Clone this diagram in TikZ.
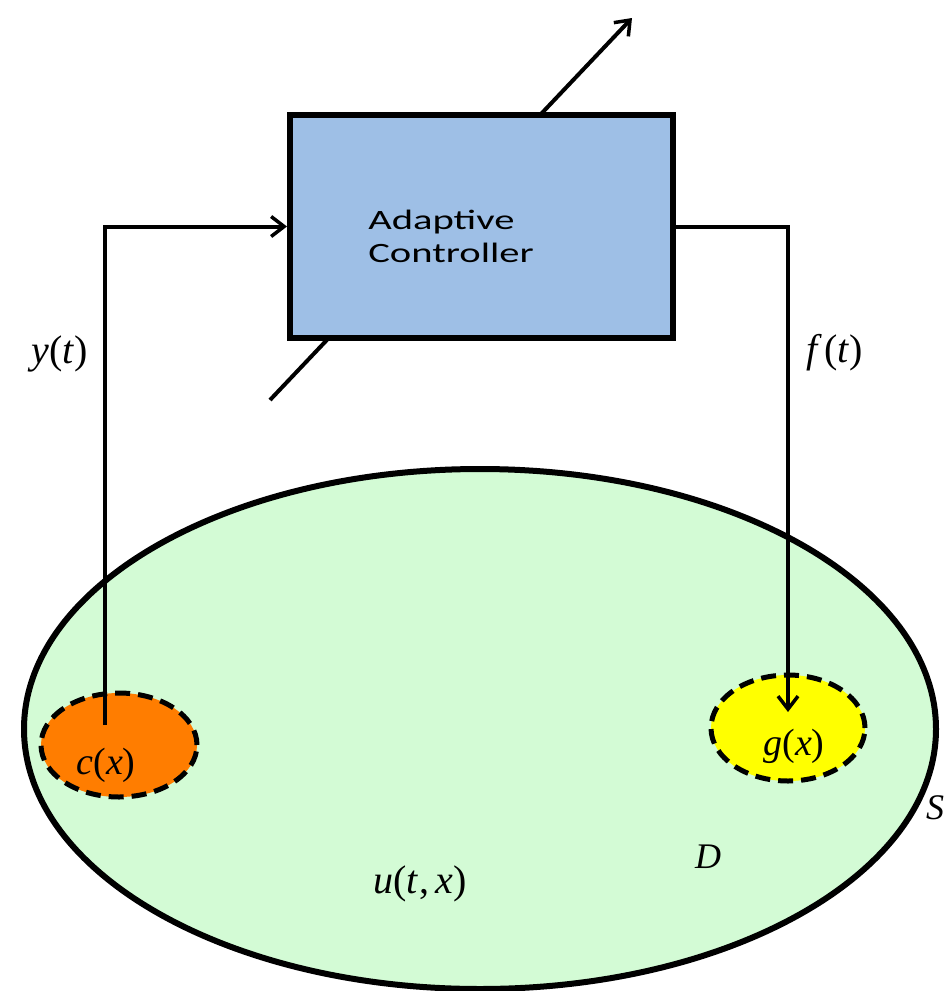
\documentclass[tikz,border=0pt]{standalone}
\usepackage{fontspec}
\setmainfont{Liberation Serif}
\newfontfamily\boxfont{Carlito}
\usetikzlibrary{shapes.geometric,arrows.meta}
\definecolor{domaingreen}{RGB}{211,251,213}
\definecolor{ctrlblue}{RGB}{158,191,230}
\definecolor{sensororange}{RGB}{255,125,0}
\definecolor{actyellow}{RGB}{255,255,0}
\tikzset{
  pdearea/.style={ellipse,draw=black,fill=domaingreen,line width=6pt,inner sep=0pt,minimum width=912pt,minimum height=520pt},
  patch/.style={ellipse,draw=black,line width=5pt,dash pattern=on 15pt off 8pt,inner sep=0pt,minimum width=156pt,minimum height=104pt},
  ctrlbox/.style={rectangle,draw=black,fill=ctrlblue,line width=6pt,inner sep=0pt,minimum width=383pt,minimum height=223pt},
  sig/.style={line width=4pt,-{Straight Barb[length=13pt,width=20pt,line width=3.5pt]}},
  lab/.style={font=\fontsize{40}{40}\selectfont,inner sep=0pt},
}
\begin{document}
\begin{tikzpicture}[x=1pt,y=-1pt]
\useasboundingbox (0,0) rectangle (944,991);
% domain
\node[pdearea] (D) at (480,729) {};
\node[patch,fill=sensororange] (c) at (119,745) {};
\node[patch,fill=actyellow,minimum width=154pt,minimum height=106pt] (g) at (788,728) {};
\node[lab,font=\fontsize{38}{38}\selectfont] (ctext) at (106,765) {\textit{c}(\textit{x})};
\node[lab,font=\fontsize{38}{38}\selectfont] (gtext) at (794,746) {\textit{g}(\textit{x})};
\node[lab] (utext) at (420,884) {\textit{u}(\textit{t}\kern1pt,\,\textit{x})};
\node[lab,font=\fontsize{36}{36}\selectfont] (dtext) at (708,857) {\textit{D}};
\node[lab,font=\fontsize{36}{36}\selectfont,anchor=west] (stext) at (926,808) {\textit{S}};
% variable-parameter arrow through the controller
\coordinate (pa) at (270,400);
\coordinate (pb) at (632,18);
\draw[sig] (pa) -- (pb);
% controller
\node[ctrlbox] (ctrl) at (481.5,226.5) {};
\node[anchor=base west,inner sep=0pt,xscale=1.45,align=left,font=\boxfont\fontsize{28}{33}\selectfont] (ctrltext) at (368,262) {Adaptive\\Controller};
% signals
\coordinate (cstart) at (105,725);
\coordinate (gtip) at (788,712);
\draw[sig] (cstart) |- (ctrl.west);
\draw[sig] (ctrl.east) -| (gtip);
\node[lab] (ytext) at (60,354) {\textit{y}(\textit{t})};
\node[lab] (ftext) at (835,353) {\textit{f}\kern2pt(\textit{t})};
\end{tikzpicture}
\end{document}
